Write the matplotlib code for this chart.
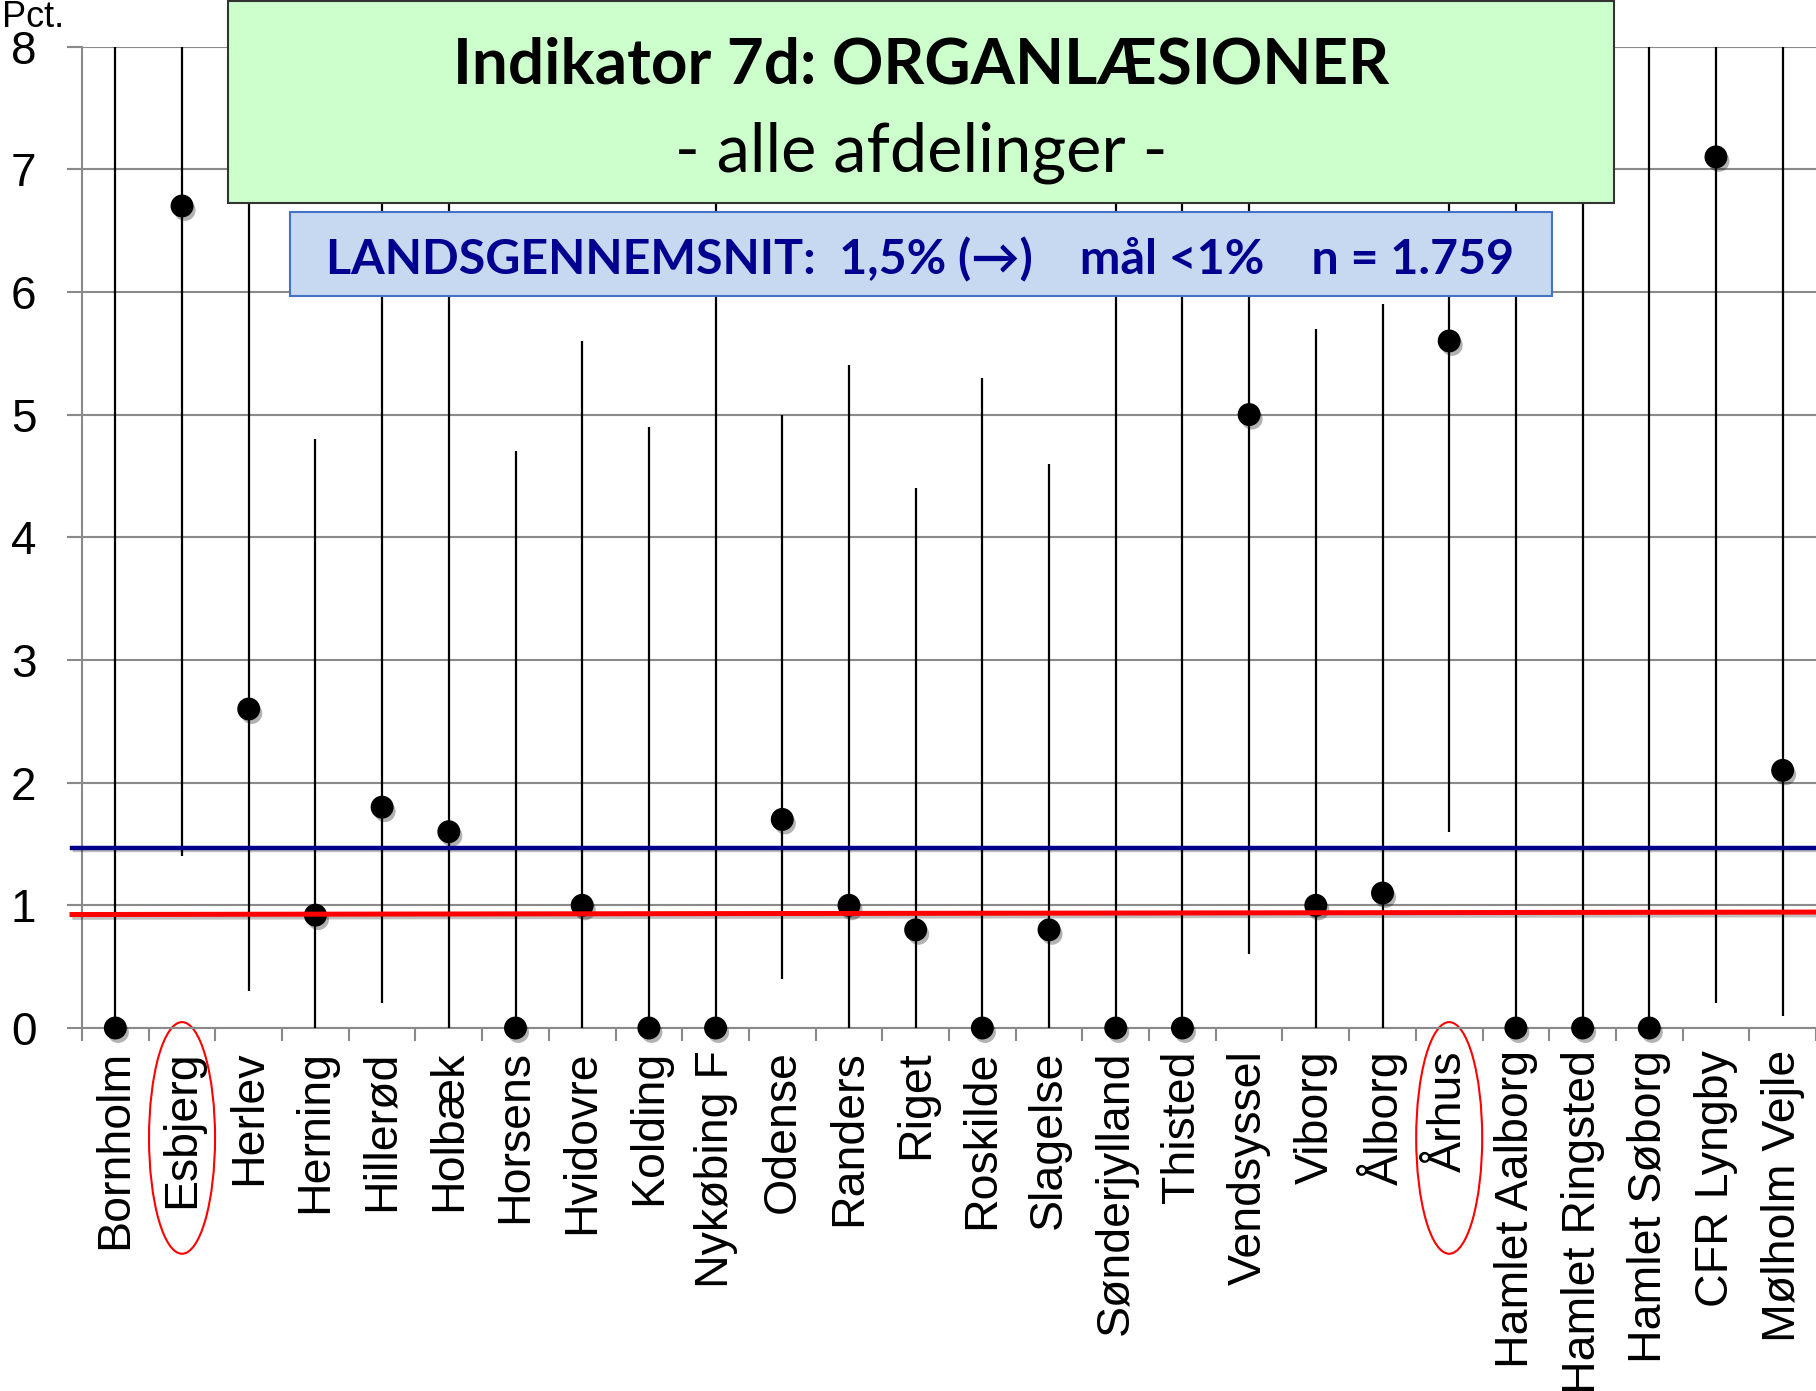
import matplotlib
matplotlib.use("Agg")
import matplotlib.pyplot as plt
import matplotlib.patheffects as pe
from matplotlib.patches import Rectangle, Ellipse

# data (percent)
departments = ["Bornholm", "Esbjerg", "Herlev", "Herning", "Hillerød", "Holbæk",
               "Horsens", "Hvidovre", "Kolding", "Nykøbing F", "Odense", "Randers",
               "Riget", "Roskilde", "Slagelse", "Sønderjylland", "Thisted",
               "Vendsyssel", "Viborg", "Ålborg", "Århus", "Hamlet Aalborg",
               "Hamlet Ringsted", "Hamlet Søborg", "CFR Lyngby", "Mølholm Vejle"]
rate = [0, 6.7, 2.6, 0.92, 1.8, 1.6, 0, 1.0, 0, 0, 1.7, 1.0, 0.8, 0, 0.8,
        0, 0, 5.0, 1.0, 1.1, 5.6, 0, 0, 0, 7.1, 2.1]
ci_low = [0, 1.4, 0.3, 0, 0.2, 0, 0, 0, 0, 0, 0.4, 0, 0, 0, 0, 0, 0, 0.6,
          0, 0, 1.6, 0, 0, 0, 0.2, 0.1]
ci_high = [8, 8, 8, 4.8, 8, 8, 4.7, 5.6, 4.9, 8, 5.0, 5.4, 4.4, 5.3, 4.6,
           8, 8, 8, 5.7, 5.9, 8, 8, 8, 8, 8, 8]
national_avg = 1.47
goal_line = [0.925, 0.945]
highlighted = ["Esbjerg", "Århus"]

W, H = 1816, 1391
fig = plt.figure(figsize=(W / 100, H / 100), dpi=100)
ax = fig.add_axes([82 / W, 1 - 1028 / H, 1 - 82 / W, (1028 - 46.5) / H])

x = list(range(len(departments)))
shadow_line = [pe.SimpleLineShadow(offset=(2, -2), alpha=0.25), pe.Normal()]

ax.vlines(x, ci_low, ci_high, color="black", lw=1.6, zorder=3)
ax.plot(x, rate, "o", ms=15.5, color="black", zorder=4, clip_on=False,
        path_effects=[pe.SimplePatchShadow(offset=(2, -3), alpha=0.3), pe.Normal()])

xl = [-0.65, 25.5]
ax.plot(xl, [national_avg, national_avg], color="#00008B", lw=3.2, zorder=5,
        clip_on=False, path_effects=shadow_line)
ax.plot(xl, goal_line, color="#FF0000", lw=3.6, zorder=5,
        clip_on=False, path_effects=shadow_line)

ax.set_xlim(-0.5, 25.5)
ax.set_ylim(0, 8)
ax.set_yticks(range(9))
ax.grid(axis="y", color="#8a8a8a", lw=1.5)
ax.set_axisbelow(True)
for s in ["top", "right"]:
    ax.spines[s].set_visible(False)
for s in ["left", "bottom"]:
    ax.spines[s].set_color("#8a8a8a")
    ax.spines[s].set_linewidth(1.5)

ax.set_xticks(x)
ax.set_xticklabels(departments, rotation=90, fontsize=33.5, family="Liberation Sans")
ax.tick_params(axis="x", length=0, pad=16)
ax.set_xticks([i - 0.5 for i in range(len(departments) + 1)], minor=True)
ax.tick_params(axis="x", which="minor", length=9.5, width=1.5, color="#8a8a8a")
ax.tick_params(axis="y", length=10.8, width=1.5, color="#8a8a8a", pad=22,
               labelsize=33)
for t in ax.get_yticklabels():
    t.set_family("Liberation Sans")

# red rings round two labels
for name in highlighted:
    i = departments.index(name)
    ax.add_patch(Ellipse((i, -0.112), 0.99, 0.236, transform=ax.get_xaxis_transform(),
                         fill=False, edgecolor="#FF0000", lw=1.5, clip_on=False))

fig.text(2 / W, 1 - 27 / H, "Pct.", fontsize=26, family="Liberation Sans",
         ha="left", va="baseline")

# title boxes
fig.add_artist(Rectangle((228 / W, 1 - 203 / H), (1614 - 228) / W, 202 / H,
                         transform=fig.transFigure, facecolor="#CCFFCC",
                         edgecolor="#333333", lw=1.5, zorder=10))
fig.text(921 / W, 1 - 83 / H, "Indikator 7d: ORGANLÆSIONER", fontsize=46,
         fontweight="bold", family=["Lato", "DejaVu Sans"], ha="center",
         va="baseline", zorder=11)
fig.text(921 / W, 1 - 171 / H, "- alle afdelinger -", fontsize=48,
         family=["Lato", "DejaVu Sans"], ha="center", va="baseline", zorder=11)

fig.add_artist(Rectangle((290 / W, 1 - 296 / H), (1552 - 290) / W, 84 / H,
                         transform=fig.transFigure, facecolor="#C6D9F1",
                         edgecolor="#4472C4", lw=1.5, zorder=12))
fig.text(920 / W, 1 - 274 / H,
         "LANDSGENNEMSNIT:  1,5% (\u2192)    mål <1%    n = 1.759",
         fontsize=34.8, fontweight="bold", color="#000090",
         family=["Lato", "DejaVu Sans"], ha="center", va="baseline", zorder=13)

fig.savefig("out.png", dpi=100)
